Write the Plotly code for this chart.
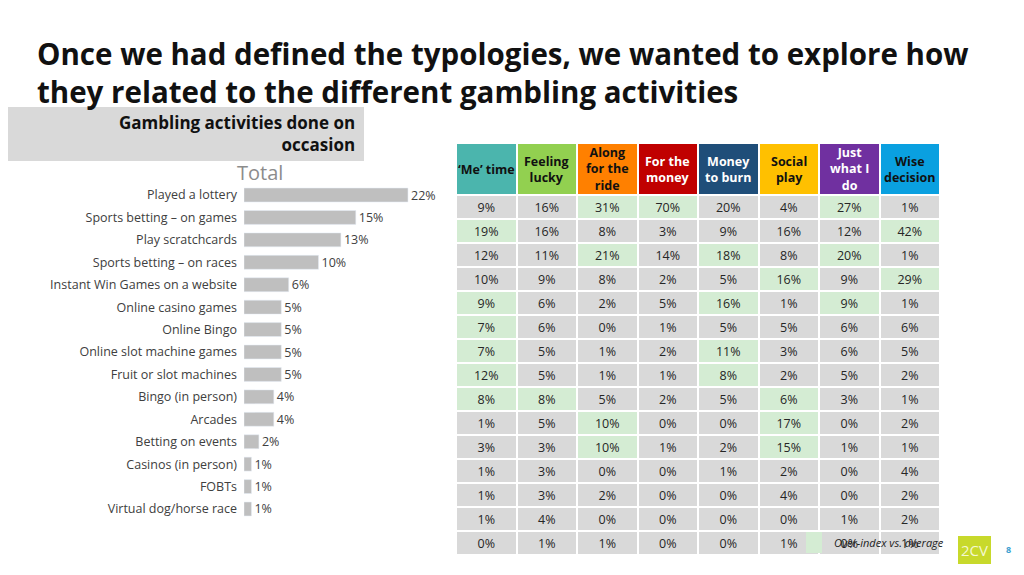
import plotly.graph_objects as go

activities = ["Played a lottery","Sports betting – on games","Play scratchcards","Sports betting – on races",
  "Instant Win Games on a website","Online casino games","Online Bingo","Online slot machine games",
  "Fruit or slot machines","Bingo (in person)","Arcades","Betting on events","Casinos (in person)","FOBTs",
  "Virtual dog/horse race"]
total = [22,15,13,10,6,5,5,5,5,4,4,2,1,1,1]
typologies = ["‘Me’ time","Feeling<br>lucky","Along<br>for the<br>ride","For the<br>money","Money<br>to burn","Social<br>play","Just<br>what I<br>do","Wise<br>decision"]
head_colors = ["#4bb5ad","#92d050","#ff8000","#c00000","#1f4e79","#ffc000","#7030a0","#0aa0e0"]
head_font = ["#111","#111","#111","white","white","#111","white","#111"]
values = [
 [9,16,31,70,20,4,27,1],
 [19,16,8,3,9,16,12,42],
 [12,11,21,14,18,8,20,1],
 [10,9,8,2,5,16,9,29],
 [9,6,2,5,16,1,9,1],
 [7,6,0,1,5,5,6,6],
 [7,5,1,2,11,3,6,5],
 [12,5,1,1,8,2,5,2],
 [8,8,5,2,5,6,3,1],
 [1,5,10,0,0,17,0,2],
 [3,3,10,1,2,15,1,1],
 [1,3,0,0,1,2,0,4],
 [1,3,2,0,0,4,0,2],
 [1,4,0,0,0,0,1,2],
 [0,1,1,0,0,1,0,1],
]
over = [
 [0,0,1,1,0,0,1,0],
 [1,0,0,0,0,0,0,1],
 [0,0,1,0,1,0,1,0],
 [0,0,0,0,0,1,0,1],
 [1,0,0,0,1,0,1,0],
 [1,0,0,0,0,0,0,0],
 [1,0,0,0,1,0,0,0],
 [1,0,0,0,1,0,0,0],
 [1,1,0,0,0,1,0,0],
 [0,0,1,0,0,1,0,0],
 [0,0,1,0,0,1,0,0],
 [0,0,0,0,0,0,0,0],
 [0,0,0,0,0,0,0,0],
 [0,0,0,0,0,0,0,0],
 [0,0,0,0,0,0,0,0],
]
GREEN="#d4ecd3"; GREY="#d9d9d9"
W,H=1024,575
OFF=8  # page body margin
def px(x): return (x-OFF)/W
def py(y): return 1-(y-OFF)/H

fig=go.Figure()
fig.add_trace(go.Bar(x=total,y=activities,orientation="h",marker_color="#bfbfbf",
    text=[f"{v}%" for v in total],textposition="outside",textfont=dict(size=12.5,color="#404040"),
    constraintext="none",cliponaxis=False,width=0.62,showlegend=False))
ncol=len(typologies)
cells=[[f"{values[r][c]}%" for r in range(len(values))] for c in range(ncol)]
fills=[[GREEN if over[r][c] else GREY for r in range(len(values))] for c in range(ncol)]
x0t,x1t=456,940
fig.add_trace(go.Table(domain=dict(x=[px(x0t),px(x1t)],y=[py(557),py(143)]),
    columnwidth=[1]*ncol,
    header=dict(values=[""]*ncol,height=52,fill_color=head_colors,line=dict(color="white",width=2)),
    cells=dict(values=cells,fill_color=fills,font=dict(size=12.5,color="#262626",family="Open Sans"),
        align="center",height=24,line=dict(color="white",width=2))))
cw=(x1t-x0t)/ncol
for i,t in enumerate(typologies):
    a=x0t+i*cw
    fig.add_annotation(xref="paper",yref="paper",x=px(a+cw/2),y=py(169),xanchor="center",yanchor="middle",
        text=f"<b>{t}</b>",showarrow=False,align="center",font=dict(size=12.5,color=head_font[i]))
fig.update_layout(width=W,height=H,margin=dict(l=0,r=0,t=0,b=0),paper_bgcolor="white",plot_bgcolor="white",
    font=dict(family="Open Sans",color="#404040"),bargap=0.3,
    xaxis=dict(domain=[px(244),px(467.6)],range=[0,30],visible=False),
    yaxis=dict(domain=[py(520.2),py(183.8)],autorange="reversed",showline=False,ticks="",
        tickfont=dict(size=12.5,color="#404040"),ticklabelstandoff=6))
fig.add_shape(type="rect",xref="paper",yref="paper",x0=-0.01,x1=px(364),y0=py(161),y1=py(107),
    fillcolor="#d9d9d9",line_width=0,layer="below")
fig.add_annotation(xref="paper",yref="paper",x=px(357),y=py(134),xanchor="right",yanchor="middle",
    text="<b>Gambling activities done on<br>occasion</b>",align="right",showarrow=False,
    font=dict(size=17,color="#111"))
fig.add_annotation(xref="paper",yref="paper",x=px(35),y=py(72),xanchor="left",yanchor="middle",
    text="<b>Once we had defined the typologies, we wanted to explore how<br>they related to the different gambling activities</b>",
    align="left",showarrow=False,font=dict(size=29.5,color="#111"))
fig.add_annotation(xref="paper",yref="paper",x=px(260),y=py(172),xanchor="center",yanchor="middle",
    text="Total",showarrow=False,font=dict(size=20,color="#8c8c8c"))
fig.add_shape(type="rect",xref="paper",yref="paper",x0=px(806),x1=px(822),y0=py(553),y1=py(532),
    fillcolor=GREEN,line_width=0)
fig.add_annotation(xref="paper",yref="paper",x=px(832),y=py(542),xanchor="left",yanchor="middle",
    text="<i>Over-index vs. average</i>",showarrow=False,font=dict(size=11,color="#222"))
fig.add_shape(type="rect",xref="paper",yref="paper",x0=px(958),x1=px(991),y0=py(564),y1=py(536),
    fillcolor="#c8d92b",line_width=0)
fig.add_annotation(xref="paper",yref="paper",x=px(974.5),y=py(550),xanchor="center",yanchor="middle",
    text="2CV",showarrow=False,font=dict(size=15,color="#f4f8d0"))
fig.add_annotation(xref="paper",yref="paper",x=px(1008),y=py(549),xanchor="center",yanchor="middle",
    text="<b>8</b>",showarrow=False,font=dict(size=9,color="#3aa0d0"))
fig.write_html("out.html")
